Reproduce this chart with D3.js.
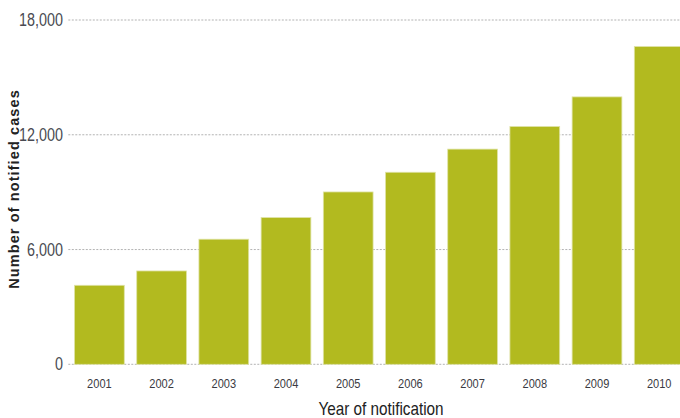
<!DOCTYPE html>
<html>
<head>
<meta charset="utf-8">
<script src="https://cdn.jsdelivr.net/npm/d3@7"></script>
<style>
  html, body { margin: 0; padding: 0; background: #fff; }
  svg { display: block; }
  text { font-family: "Liberation Sans", Arial, sans-serif; }
</style>
</head>
<body>
<svg id="chart" width="680" height="418"></svg>
<script>
const years = ["2001","2002","2003","2004","2005","2006","2007","2008","2009","2010"];
const cases = [4130, 4880, 6540, 7670, 9010, 10040, 11250, 12430, 13980, 16610];
const yTicks = [0, 6000, 12000, 18000];
const yTitle = "Number of notified cases";
const xTitle = "Year of notification";

const svg = d3.select("#chart");
const W = 680, H = 418;
const x0 = 68.3, yBottom = 364.3, yTop = 20;

const x = d3.scaleBand().domain(years).range([x0, x0 + 622]).paddingInner(0.2).paddingOuter(0.1);
const y = d3.scaleLinear().domain([0, 18000]).range([yBottom, yTop]);

const cond = 0.82;

// gridlines
svg.append("g").selectAll("line").data(yTicks).join("line")
  .attr("x1", x0).attr("x2", W)
  .attr("y1", d => y(d)).attr("y2", d => y(d))
  .attr("stroke", "#a0a0a0").attr("stroke-width", 0.8)
  .attr("stroke-dasharray", "2,1.5");

// y tick labels
svg.append("g").selectAll("text").data(yTicks).join("text")
  .attr("transform", d => `translate(63,${y(d) + 6}) scale(${cond},1)`)
  .attr("text-anchor", "end")
  .attr("font-size", 17.5).attr("fill", "#4a4a52")
  .text(d => d3.format(",")(d));

// bars
svg.append("g").selectAll("rect").data(years).join("rect")
  .attr("x", d => x(d)).attr("width", x.bandwidth())
  .attr("y", (d, i) => y(cases[i]))
  .attr("height", (d, i) => yBottom - y(cases[i]))
  .attr("fill", "#b2ba1f")
  .attr("stroke", "#dfe3a6").attr("stroke-width", 0.8);

// x tick labels
svg.append("g").selectAll("text").data(years).join("text")
  .attr("transform", d => `translate(${x(d) + x.bandwidth() / 2},388) scale(${cond},1)`)
  .attr("text-anchor", "middle")
  .attr("font-size", 13.5).attr("fill", "#3a3a42")
  .text(d => d);

// x title
svg.append("text")
  .attr("transform", `translate(381,415) scale(0.85,1)`)
  .attr("text-anchor", "middle")
  .attr("font-size", 18).attr("fill", "#222")
  .text(xTitle);

// y title
svg.append("text")
  .attr("transform", "translate(19,189) rotate(-90)")
  .attr("text-anchor", "middle")
  .attr("font-size", 14.5).attr("font-weight", "bold").attr("fill", "#222")
  .attr("letter-spacing", 1.1)
  .text(yTitle);
</script>
</body>
</html>
